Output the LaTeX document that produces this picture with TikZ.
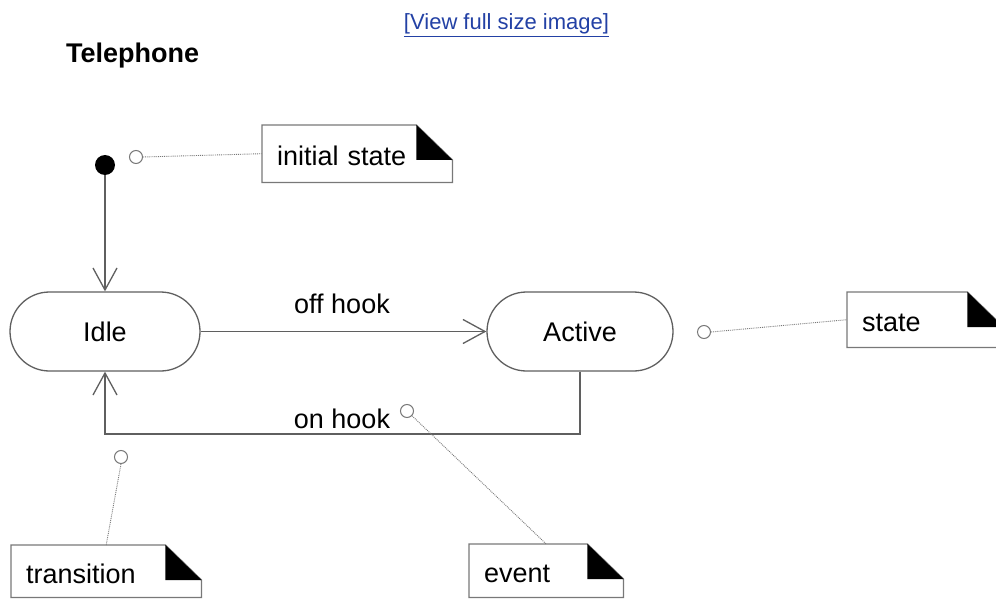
\documentclass[tikz,border=0pt]{standalone}
\usepackage{fontspec}
\setmainfont{Liberation Sans}
\usetikzlibrary{arrows.meta,shapes.misc,calc,backgrounds}
\definecolor{linkblue}{RGB}{35,65,165}
\definecolor{lineg}{RGB}{95,95,95}
\definecolor{noteg}{RGB}{120,120,120}
\begin{document}
\begin{tikzpicture}[x=1pt,y=-1pt,
  bigtext/.style={font=\fontsize{27pt}{32pt}\selectfont},
  statebox/.style={rounded rectangle, draw=lineg, line width=1.3pt, minimum height=79pt, bigtext, inner sep=0pt},
  trans/.style={draw=lineg, line width=1.3pt, -{Straight Barb[length=22pt,width=24pt,line width=1.3pt]}},
  notebox/.style={rectangle, anchor=north west, inner xsep=15pt, inner ysep=0pt, text height=24pt, text depth=0pt, align=left, bigtext},
  pin/.style={circle, draw=noteg, line width=1pt, fill=white, minimum size=13pt, inner sep=0pt},
  anchorline/.style={draw=noteg, line width=0.9pt, densely dotted},
  noteline/.style={draw=noteg, line width=1.3pt, fill=white}
]
\useasboundingbox (0,0) rectangle (996,599);
\begin{scope}[on background layer]
\fill[white] (0,0) rectangle (996,599);
\end{scope}
\clip (0,0) rectangle (996,599);

% header
\node[anchor=base, text=linkblue, font=\fontsize{22pt}{26pt}\selectfont, inner sep=0pt] (link) at (506.5,30) {\underline{[View full size image]}};
\node[anchor=base west, font=\fontsize{27pt}{32pt}\selectfont\bfseries, inner sep=0pt] (title) at (66,63) {Telephone};

% states
\node[circle, fill=black, minimum size=20pt, inner sep=0pt] (init) at (105,165) {};
\node[statebox, minimum width=190pt] (idle) at (105,331.5) {Idle};
\node[statebox, minimum width=186pt] (active) at (580,331.5) {Active};

% transitions
\draw[trans] (init.south) -- (idle.north);
\draw[trans] (idle.east) -- (active.west);
\node[anchor=base, bigtext, inner sep=0pt] (offhook) at (342,313) {off hook};
\coordinate (ret) at (580,434);
\draw[trans] (active.south) -- (ret) -| (idle.south);
\node[anchor=base, bigtext, inner sep=0pt] (onhook) at (342,428) {on hook};

% notes
\node[notebox, text width=160pt, minimum height=57pt] (n1) at (262,125) {initial state};
\node[notebox, text width=126pt, minimum height=55pt] (n2) at (847,292) {state};
\node[notebox, text width=124pt, minimum height=53pt] (n3) at (469,544) {event};
\node[notebox, text width=160pt, minimum height=52pt] (n4) at (11,545) {transition};

\begin{scope}[on background layer]
\foreach \n in {n1,n2,n3,n4}{
  \path[noteline] (\n.north west) -- ($(\n.north east)+(-36,0)$) -- ($(\n.north east)+(0,35)$) -- (\n.south east) -- (\n.south west) -- cycle;
  \fill[black] ($(\n.north east)+(-36,0)$) -- ($(\n.north east)+(-36,35)$) -- ($(\n.north east)+(0,35)$) -- cycle;
}
\end{scope}

% pins and anchor lines
\node[pin] (p1) at (136,157) {};
\node[pin] (p2) at (704,332) {};
\node[pin] (p3) at (407,411) {};
\node[pin] (p4) at (121,457) {};
\draw[anchorline] (p1.east) -- (n1.west);
\draw[anchorline] (p2.east) -- (n2.west);
\draw[anchorline] (p3) -- (n3.north);
\draw[anchorline] (p4.south) -- (n4.north);
\end{tikzpicture}
\end{document}
